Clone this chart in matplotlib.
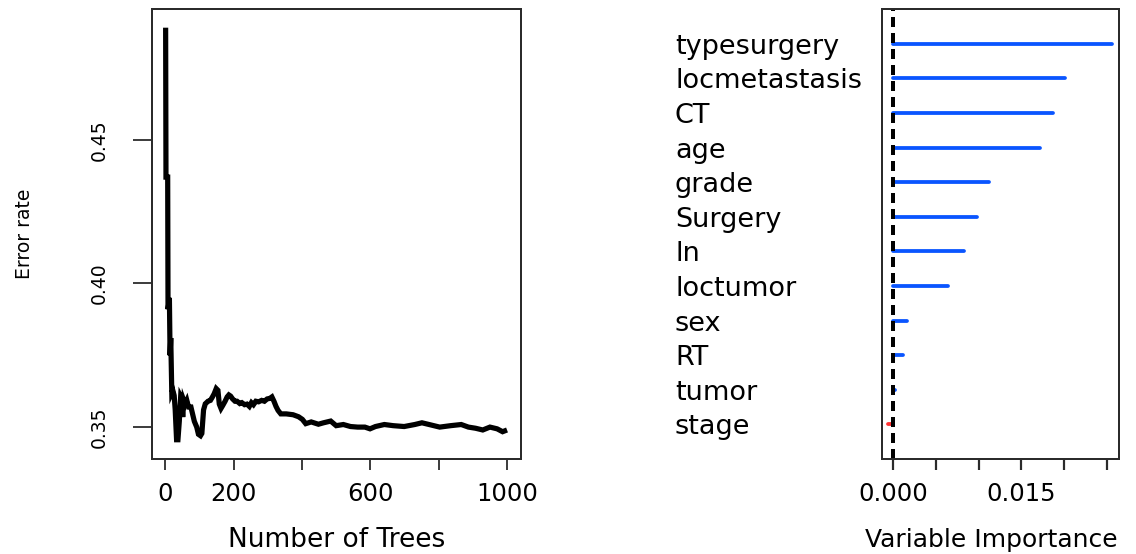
import matplotlib
matplotlib.use("Agg")
import matplotlib.pyplot as plt
import numpy as np

plt.rcParams['font.family'] = ['DejaVu Sans']

# OOB error rate vs number of trees
n_trees = [1, 2, 7, 8, 12, 14, 16, 19, 22, 26, 29, 33, 37, 41, 45, 48, 51, 54, 58, 63,
           68, 75, 80, 85, 92, 97, 103, 107, 112, 117, 125, 132, 138, 143, 149, 154, 158,
           163, 168, 175, 181, 186, 191, 197, 204, 210, 218, 224, 232, 239, 246, 252, 258,
           265, 273, 282, 290, 298, 306, 312, 318, 324, 330, 338, 354, 374, 390, 401, 411,
           427, 448, 463, 484, 500, 521, 542, 563, 584, 599, 615, 641, 667, 699, 730, 751,
           772, 803, 835, 866, 887, 908, 929, 950, 971, 987, 1000]
err_rate = [0.489, 0.437, 0.437, 0.391, 0.395, 0.375, 0.381, 0.362, 0.3628, 0.361, 0.356,
            0.3456, 0.3456, 0.352, 0.3607, 0.3600, 0.3535, 0.3593, 0.3580, 0.3593, 0.3570,
            0.3570, 0.3545, 0.3520, 0.3500, 0.3475, 0.3470, 0.3478, 0.3560, 0.3581, 0.3590,
            0.3593, 0.3605, 0.3616, 0.3634, 0.3628, 0.3580, 0.3565, 0.3575, 0.3590, 0.3605,
            0.3612, 0.3608, 0.3598, 0.3590, 0.3590, 0.3582, 0.3585, 0.3578, 0.3580, 0.3572,
            0.3585, 0.3578, 0.3590, 0.3588, 0.3593, 0.3590, 0.3598, 0.3600, 0.3605, 0.3590,
            0.3572, 0.3558, 0.3546, 0.3546, 0.3543, 0.3536, 0.3527, 0.3512, 0.3518, 0.3510,
            0.3515, 0.3521, 0.3505, 0.3509, 0.3502, 0.3500, 0.3500, 0.3494, 0.3502, 0.3509,
            0.3505, 0.3502, 0.3509, 0.3515, 0.3509, 0.3500, 0.3505, 0.3509, 0.3500, 0.3496,
            0.3490, 0.3500, 0.3494, 0.3484, 0.3490]

tree_ticks = [0, 200, 400, 600, 800, 1000]
tree_labels = ['0', '200', '', '600', '', '1000']
err_ticks = [0.35, 0.40, 0.45]
err_labels = ['0.35', '0.40', '0.45']

# variable importance, top to bottom
variables = ['typesurgery', 'locmetastasis', 'CT', 'age', 'grade', 'Surgery', 'ln',
             'loctumor', 'sex', 'RT', 'tumor', 'stage']
importance = [0.02560, 0.0201, 0.01875, 0.01718, 0.01118, 0.00985, 0.00824, 0.0064,
              0.00158, 0.00111, 0.00025, -0.00066]
imp_ticks = [0.0, 0.005, 0.010, 0.015, 0.020, 0.025]
imp_labels = ['0.000', '', '', '0.015', '', '']

PX = 72 / 100  # points per pixel at dpi 100
W, H = 1136, 554

fig = plt.figure(figsize=(W / 100, H / 100), dpi=100)
ax1 = fig.add_axes([152 / W, 1 - 459 / H, (520.7 - 152) / W, (459 - 9.3) / H])
ax2 = fig.add_axes([882 / W, 1 - 459 / H, (1119 - 882) / W, (459 - 9.3) / H])

edge = '#2b2b2b'
for ax in (ax1, ax2):
    for sp in ax.spines.values():
        sp.set_color(edge)
        sp.set_linewidth(2 * PX)

# --- left: error rate
ax1.plot(n_trees, err_rate, color='black', lw=5.2 * PX,
         solid_joinstyle='miter', solid_capstyle='butt')
ax1.set_xlim(-38.9, 1040)
ax1.set_ylim(0.3389, 0.4954)
ax1.set_xticks(tree_ticks, tree_labels)
ax1.set_yticks(err_ticks, err_labels)
ax1.tick_params(axis='x', length=11 * PX, width=1.8 * PX, color=edge,
                labelsize=17.5, pad=12 * PX)
ax1.tick_params(axis='y', length=19 * PX, width=1.8 * PX, color=edge,
                labelsize=13.5, pad=24 * PX)
for lbl in ax1.get_yticklabels():
    lbl.set_rotation(90)
    lbl.set_va('center')
ax1.set_xlabel('Number of Trees', fontsize=19, va='center')
ax1.xaxis.set_label_coords(0.5, -0.18)
ax1.set_ylabel('Error rate', fontsize=13.5, va='center')
ax1.yaxis.set_label_coords(-0.347, 0.5)

# --- right: variable importance
pos = np.arange(len(variables), 0, -1)
cols = ['#0a55ff' if v > 0 else '#ff3030' for v in importance]
ax2.hlines(pos, 0, importance, colors=cols, lw=3.8 * PX, capstyle='round')
ax2.axvline(0, color='black', lw=4 * PX, linestyle=(0, (2.5, 1.5)))
ax2.set_xlim(-0.00132, 0.02644)
ax2.set_ylim(0, 13)
ax2.set_xticks(imp_ticks, imp_labels)
ax2.set_yticks(pos, variables)
ax2.tick_params(axis='x', length=11 * PX, width=2.2 * PX, color=edge,
                labelsize=17.5, pad=12 * PX)
ax2.tick_params(axis='y', length=0, pad=207 * PX, labelsize=19.5)
for lbl in ax2.get_yticklabels():
    lbl.set_ha('left')
ax2.set_xlabel('Variable Importance', fontsize=18, va='center')
ax2.xaxis.set_label_coords(0.46, -0.18)

fig.savefig('out.png', dpi=100)
